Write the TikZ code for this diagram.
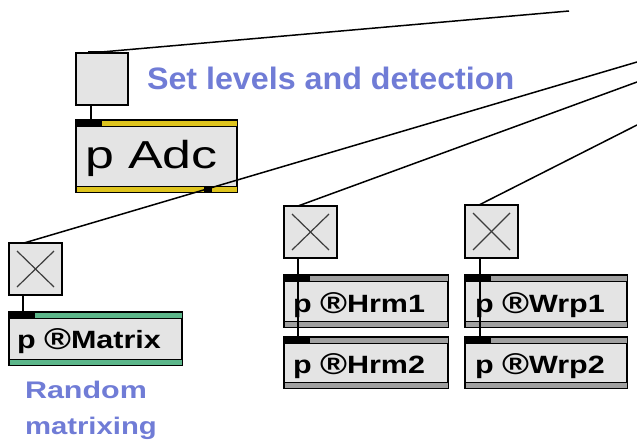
\documentclass[tikz,border=0pt]{standalone}
\usepackage{fontspec}
\setmainfont{Liberation Sans}
\usepackage{graphicx}
\definecolor{cmt}{RGB}{112,124,214}
\definecolor{boxfill}{RGB}{228,228,228}
\definecolor{ylw}{RGB}{222,196,30}
\definecolor{grn}{RGB}{92,182,138}
\definecolor{gband}{RGB}{160,160,160}
\definecolor{xgray}{RGB}{60,60,60}
\newcommand\mybands[2]{%
  \filldraw[band,fill=#2] (#1.north west) rectangle ([shift={(0,6)}]#1.north east);
  \filldraw[band,fill=#2] ([shift={(0,-6)}]#1.south west) rectangle (#1.south east);
  \fill[port] ([shift={(0,-0.7)}]#1.north west) rectangle ([shift={(26,6)}]#1.north west);}
\newcommand\myxmark[1]{%
  \draw[xmark] ([shift={(8,8)}]#1.north west) -- ([shift={(-8,-8)}]#1.south east);
  \draw[xmark] ([shift={(-8,8)}]#1.north east) -- ([shift={(8,-8)}]#1.south west);
  \fill[port] ([shift={(12,-1.5)}]#1.north west) rectangle ([shift={(19,1.2)}]#1.north west);}
\newcommand\reg{\raisebox{-0.05em}{\scalebox{1.2}{®}}}
\begin{document}
\begin{tikzpicture}[x=1pt,y=-1pt,
  obj/.style={draw=black,line width=1.5pt,fill=boxfill,inner sep=0pt,outer sep=0pt,anchor=north west},
  cord/.style={line width=1.5pt,draw=black},
  xmark/.style={line width=1.2pt,draw=xgray},
  band/.style={line width=0.9pt,draw=black},
  port/.style={fill=black},
  lbl/.style={anchor=base west,inner sep=0pt,outer sep=0pt,font=\fontsize{25}{25}\selectfont\bfseries},
  cmtxt/.style={anchor=base west,inner sep=0pt,outer sep=0pt,text=cmt},
]
\useasboundingbox (0,0) rectangle (637,444);
% objects
\node[obj,minimum width=52,minimum height=52] (gbox) at (76,53) {};
\node[obj,minimum width=161,minimum height=72] (adc) at (76,120) {};
\node[obj,minimum width=53,minimum height=52] (xl) at (9,243) {};
\node[obj,minimum width=173,minimum height=53] (mat) at (9,312) {};
\node[obj,minimum width=53,minimum height=52] (xh) at (284,206) {};
\node[obj,minimum width=164,minimum height=52] (hrm1) at (284,275) {};
\node[obj,minimum width=164,minimum height=51] (hrm2) at (284,337) {};
\node[obj,minimum width=53,minimum height=53] (xw) at (465,205) {};
\node[obj,minimum width=162,minimum height=52] (wrp1) at (465,275) {};
\node[obj,minimum width=162,minimum height=51] (wrp2) at (465,337) {};
% bands and ports
\mybands{adc}{ylw}
\fill[port] ([shift={(128,-6)}]adc.south west) rectangle ([shift={(136,0.7)}]adc.south west);
\mybands{mat}{grn}
\mybands{hrm1}{gband}
\mybands{hrm2}{gband}
\mybands{wrp1}{gband}
\mybands{wrp2}{gband}
\fill[port] ([shift={(12,-1.5)}]gbox.north west) rectangle ([shift={(29,1.2)}]gbox.north west);
\myxmark{xl}
\myxmark{xh}
\myxmark{xw}
% labels
\node[anchor=base west,inner sep=0pt,outer sep=0pt,font=\fontsize{39}{39}\selectfont] (tadc) at (85,168) {\scalebox{1.33}[1]{p Adc}};
\node[lbl] (tmat) at (17,348) {\scalebox{1.22}[1]{p \reg Matrix}};
\node[lbl] (th1) at (293,312) {\scalebox{1.22}[1]{p \reg Hrm1}};
\node[lbl] (th2) at (293,373) {\scalebox{1.22}[1]{p \reg Hrm2}};
\node[lbl] (tw1) at (475,312) {\scalebox{1.22}[1]{p \reg Wrp1}};
\node[lbl] (tw2) at (475,373) {\scalebox{1.22}[1]{p \reg Wrp2}};
\node[cmtxt,font=\fontsize{31}{31}\selectfont\bfseries] (cset) at (147,89) {\scalebox{1.04}[1]{Set levels and detection}};
\node[cmtxt,font=\fontsize{24}{24}\selectfont\bfseries] (crand) at (25,398) {\scalebox{1.27}[1]{Random}};
\node[cmtxt,font=\fontsize{24}{24}\selectfont\bfseries] (cmatx) at (25,434) {\scalebox{1.22}[1]{matrixing}};
% cords
\coordinate (topend) at (569,11);
\coordinate (r1) at (637,62);
\coordinate (r2) at (637,82);
\coordinate (r3) at (637,125);
\draw[cord] ([xshift=14pt]gbox.north west) -- (topend);
\draw[cord] ([xshift=15pt]gbox.south west) -- ([xshift=15pt]adc.north west);
\draw[cord] (r1) -- ([xshift=15pt]xl.north west);
\draw[cord] (r2) -- ([xshift=14pt]xh.north west);
\draw[cord] (r3) -- ([xshift=14pt]xw.north west);
\draw[cord] ([xshift=14pt]xl.south west) -- ([xshift=14pt]mat.north west);
\draw[cord] ([xshift=14pt]xh.south west) -- ([xshift=14pt]hrm2.north west);
\draw[cord] ([xshift=15pt]xw.south west) -- ([xshift=15pt]wrp2.north west);
\end{tikzpicture}
\end{document}
